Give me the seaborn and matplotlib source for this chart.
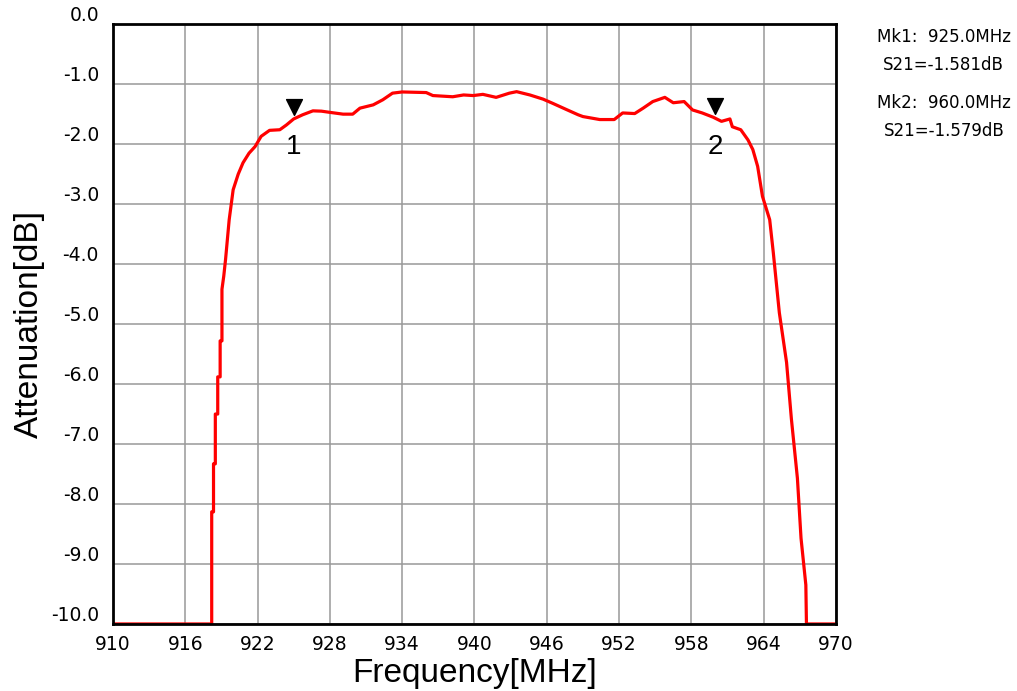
import matplotlib
matplotlib.use("Agg")
import matplotlib.pyplot as plt
import matplotlib.transforms as mtransforms
import seaborn as sns
import pandas as pd

# ============================================
# DATA
# ============================================

freq_mhz = [
    910.0, 918.2, 918.2, 918.35, 918.35, 918.5, 918.5, 918.7, 918.7, 918.9,
    918.9, 919.05, 919.05, 919.2, 919.35, 919.65, 919.98, 920.4, 920.8, 921.3,
    921.8, 922.3, 923.0, 923.85, 924.4, 925.0, 925.75, 926.6, 927.3, 928.0,
    929.1, 929.9, 930.5, 931.6, 932.4, 933.2, 934.0, 936.0, 936.55, 938.2,
    939.1, 939.9, 940.7, 941.8, 942.9, 943.5, 944.6, 945.7, 946.5, 947.6,
    948.6, 949.0, 950.4, 951.6, 952.3, 953.3, 954.0, 954.8, 955.8, 956.5,
    957.4, 958.1, 958.9, 959.8, 960.5, 961.2, 961.4, 962.1, 962.7, 963.1,
    963.5, 963.9, 964.5, 964.8, 965.3, 965.9, 966.3, 966.8, 967.1, 967.5,
    967.55, 970.0,
]
s21_db = [
    -10.0, -10.0, -8.13, -8.13, -7.33, -7.33, -6.5, -6.5, -5.88, -5.88,
    -5.28, -5.28, -4.42, -4.2, -3.92, -3.26, -2.76, -2.5, -2.31, -2.15,
    -2.04, -1.87, -1.77, -1.76, -1.68, -1.58, -1.51, -1.445, -1.45, -1.47,
    -1.50, -1.50, -1.40, -1.345, -1.26, -1.15, -1.13, -1.14, -1.19, -1.21,
    -1.18, -1.19, -1.17, -1.22, -1.15, -1.125, -1.18, -1.25, -1.32, -1.42,
    -1.51, -1.54, -1.59, -1.59, -1.48, -1.49, -1.40, -1.29, -1.22, -1.31,
    -1.29, -1.43, -1.48, -1.55, -1.62, -1.58, -1.71, -1.76, -1.93, -2.09,
    -2.37, -2.87, -3.26, -3.81, -4.81, -5.64, -6.58, -7.57, -8.57, -9.35,
    -10.0, -10.0,
]

marker_ids = ["1", "2"]
marker_freq = [925.0, 960.0]
marker_s21 = [-1.581, -1.579]

x_ticks = [910, 916, 922, 928, 934, 940, 946, 952, 958, 964, 970]
y_ticks = [0, -1, -2, -3, -4, -5, -6, -7, -8, -9, -10]

df = pd.DataFrame({"freq": freq_mhz, "s21": s21_db})

# ============================================
# PLOT
# ============================================

sns.set_style("white")
plt.rcParams["font.family"] = ["DejaVu Sans"]
for key in ["text.color", "axes.labelcolor", "xtick.color", "ytick.color"]:
    plt.rcParams[key] = "black"

fig = plt.figure(figsize=(10.17, 6.91), dpi=100)
ax = fig.add_axes([0.111, 0.097, 0.711, 0.868])

sns.lineplot(data=df, x="freq", y="s21", color="#ff0000", linewidth=2.3,
             estimator=None, sort=False, ax=ax)

ax.set_xlim(910, 970)
ax.set_ylim(-10, 0)
ax.set_xticks(x_ticks)
ax.set_xticklabels([str(t) for t in x_ticks])
ax.set_yticks(y_ticks)
ax.set_yticklabels([f"{t:.1f}" if t != 0 else "0.0" for t in y_ticks])
ax.tick_params(axis="both", length=0, labelsize=13.5, colors="black")
ax.tick_params(axis="y", pad=10)
ax.tick_params(axis="x", pad=8)

# y labels sit just above their grid line, as on the analyzer
lift = mtransforms.ScaledTranslation(0, 3 / 100, fig.dpi_scale_trans)
for lab in ax.get_yticklabels():
    lab.set_va("baseline")
    lab.set_transform(lab.get_transform() + lift)

ax.grid(True, color="#999999", linewidth=1.1)
ax.set_axisbelow(True)
for sp in ax.spines.values():
    sp.set_color("black")
    sp.set_linewidth(2.0)
    sp.set_visible(True)

ax.set_xlabel("Frequency[MHz]", fontsize=24, family="Liberation Sans", va="baseline")
ax.xaxis.set_label_coords(0.5, -0.097)
ax.set_ylabel("Attenuation[dB]", fontsize=24, family="Liberation Sans", labelpad=4)

# marker triangles and their numbers
tri_tr = mtransforms.offset_copy(ax.transData, fig=fig, y=9, units="points")
ax.scatter(marker_freq, marker_s21, marker="v", s=130, color="black",
           transform=tri_tr, zorder=5, clip_on=False)
for mid, mx, my in zip(marker_ids, marker_freq, marker_s21):
    ax.annotate(mid, (mx, my), xytext=(0, -20), textcoords="offset points",
                ha="center", va="center", fontsize=20, family="Liberation Sans")

# marker readouts on the right
for i, (mx, my) in enumerate(zip(marker_freq, marker_s21)):
    y0 = 0.946 - i * 0.095
    fig.text(0.928, y0, f"Mk{i + 1}:  {mx:.1f}MHz", ha="center", va="center",
             fontsize=12)
    fig.text(0.928, y0 - 0.040, f"S21={my:.3f}dB", ha="center", va="center",
             fontsize=12)

fig.savefig("out.png", dpi=100, facecolor="white")
